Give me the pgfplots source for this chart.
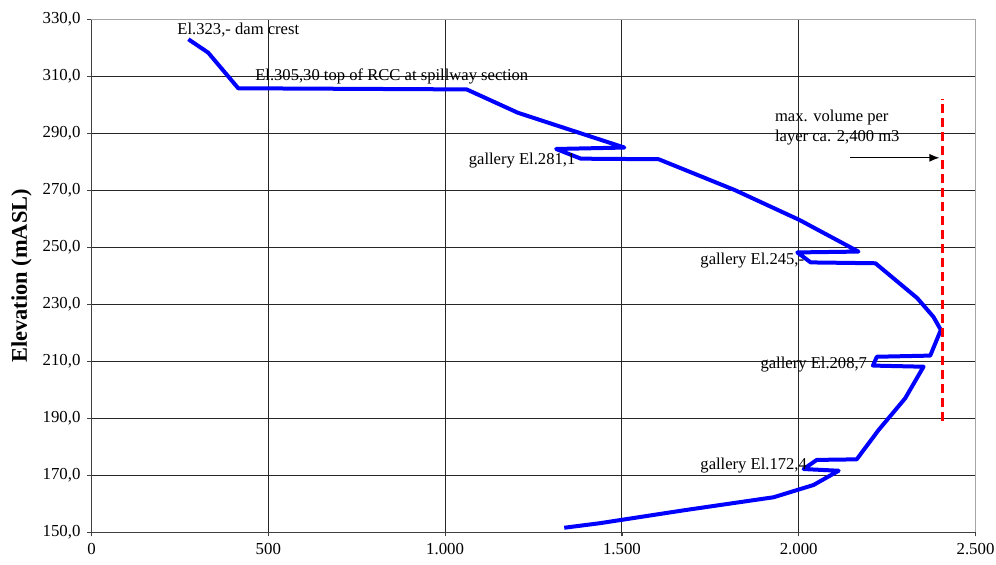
\documentclass[border=0pt]{standalone}
\usepackage{fontspec}
\setmainfont{Liberation Serif}
\usepackage{pgfplots}
\pgfplotsset{compat=1.18}
\usetikzlibrary{arrows.meta}
\tikzset{ann/.style={anchor=west, inner sep=0, font=\fontsize{8.3}{10}\selectfont}}
\begin{document}
\begin{tikzpicture}
\begin{axis}[
  scale only axis, width=442pt, height=256.5pt,
  anchor=south west, at={(0,0)},
  xmin=0, xmax=2500, ymin=150, ymax=330,
  xtick={0,500,1000,1500,2000,2500},
  ytick={150,170,190,210,230,250,270,290,310,330},
  scaled x ticks=false,
  axis x line*=bottom, axis y line*=left,
  axis line style={black!75, line width=0.6pt},
  tick align=outside, major tick length=2pt,
  tick style={black!75, line width=0.6pt},
  grid=major, major grid style={black!85, line width=0.5pt},
  /pgf/number format/assume math mode=true,
  ticklabel style={font=\fontsize{8.4}{10}\selectfont},
  xticklabel style={/pgf/number format/1000 sep={.}},
  yticklabel style={/pgf/number format/.cd, fixed, fixed zerofill, precision=1, use comma, 1000 sep={}},
  ylabel={\bfseries Elevation (mASL)},
  every axis y label/.style={at={(axis description cs:0,0.5)}, xshift=-35pt, rotate=90, anchor=center, font=\fontsize{11.2}{13}\selectfont},
  clip=false
]
\addplot[blue, line width=2pt, line join=round] coordinates {
(274,323.0) (330,318.3) (415,305.8) (1061,305.4) (1206,297.2) (1507,285.0)
(1314,284.5) (1384,281.1) (1604,280.9) (1819,270.1) (2002,259.6) (2169,248.5)
(1996,248.2) (2034,244.7) (2217,244.4) (2335,232.2) (2381,225.6) (2402,221.0)
(2372,212.0) (2221,211.6) (2210,208.5) (2353,208.1) (2301,197.0) (2226,185.9)
(2164,175.6) (2051,175.4) (2014,172.2) (2113,171.6) (2042,166.6) (1929,162.3)
(1674,157.7) (1438,153.2) (1337,151.6)
};
\addplot[red, line width=1.5pt, dash pattern=on 4.5pt off 2.5pt] coordinates {(2408,189) (2408,302)};
\addplot[black, line width=0.6pt, -{Latex[length=5pt,width=4pt]}] coordinates {(2145,281.4) (2398,281.4)};
\node[ann] at (axis cs:242,326.2) {El.323,- dam crest};
\node[ann] at (axis cs:462,310.1) {El.305,30 top of RCC at spillway section};
\node[ann] at (axis cs:1066,280.6) {gallery El.281,1};
\node[ann] at (axis cs:1721,245.3) {gallery El.245,-};
\node[ann] at (axis cs:1891,208.7) {gallery El.208,7};
\node[ann] at (axis cs:1721,173.6) {gallery El.172,4};
\node[ann, align=left] at (axis cs:1932,292) {max. volume per\\layer ca. 2,400 m3};
\draw[gray!70, line width=0.8pt] (rel axis cs:0,1) -- (rel axis cs:1,1) -- (rel axis cs:1,0);
\end{axis}
\pgfresetboundingbox
\path (-45.75pt,-15.85pt) rectangle (452.25pt,266.15pt);
\end{tikzpicture}
\end{document}
